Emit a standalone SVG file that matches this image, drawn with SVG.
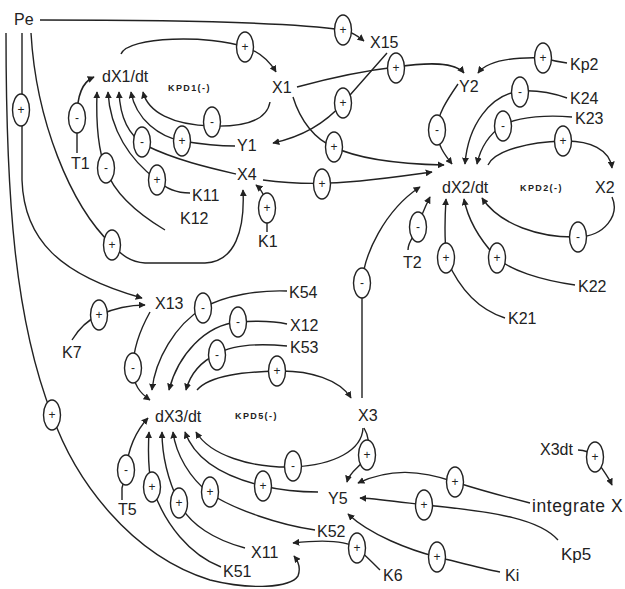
<svg xmlns="http://www.w3.org/2000/svg" width="625" height="589" viewBox="0 0 625 589">
<style>
.lbl{font-family:"Liberation Sans",Arial,sans-serif;font-size:16px;fill:#222}
.kpd{font-family:"Liberation Sans",Arial,sans-serif;font-size:9px;font-weight:bold;letter-spacing:1.4px;fill:#222}
.c path{fill:none;stroke:#222;stroke-width:1.4}
.c path.a{marker-end:url(#ah)}
.s ellipse{fill:#fff;stroke:#222;stroke-width:1.4}
.s text{font-family:"Liberation Sans",Arial,sans-serif;font-size:12px;fill:#222;text-anchor:middle}
</style>
<defs>
<marker id="ah" viewBox="0 0 10 10" refX="9" refY="5" markerWidth="7" markerHeight="7" markerUnits="userSpaceOnUse" orient="auto"><path d="M0,0 L10,5 L0,10 z" fill="#222"/></marker>
</defs>
<rect width="625" height="589" fill="#fff"/>
<g id="connectors" class="c">
<path class="a" d="M40,20 C150,20 290,22 343,30 C352,32 358,36 364,41"/>
<path class="a" d="M121,54 C128,36 210,35 245,47 C260,52 270,62 276,72"/>
<path class="a" d="M270,102 C267,120 245,127 212,126 C172,125 148,112 143,92"/>
<path class="a" d="M235,146 C215,146 200,144 182,141 C160,137 136,120 131,92"/>
<path class="a" d="M236,174 C210,168 175,160 145,145 C128,135 120,115 119,92"/>
<path class="a" d="M190,193 C175,193 165,188 157,180 C130,160 110,130 108,92"/>
<path class="a" d="M165,230 C140,215 115,195 106,170 C98,150 96,120 97,92"/>
<path class="a" d="M77,153 L77,118 C77,95 82,82 94,77"/>
<path class="a" d="M6,33 C6,200 15,320 52,415 C75,480 130,555 210,580 C250,590 290,588 298,576 C301,568 298,561 294,556"/>
<path class="a" d="M22,33 L22,180 C24,240 60,275 142,298"/>
<path class="a" d="M31,33 C36,120 70,205 112,245 C122,255 130,262 145,263 L205,263 C235,262 245,230 243,190"/>
<path class="a" d="M267,232 L267,215 C267,198 262,190 256,185"/>
<path class="a" d="M263,180 C300,185 330,184 360,181 C390,178 410,175 432,172"/>
<path class="a" d="M293,97 C300,120 315,140 334,147 C360,160 400,164 444,165"/>
<path class="a" d="M297,87 C330,78 370,70 396,67 C430,62 455,62 464,73"/>
<path class="a" d="M387,53 L343,103 C330,118 310,135 273,143"/>
<path class="a" d="M567,63 C560,62 550,60 543,58 C515,57 488,60 478,73"/>
<path class="a" d="M458,84 C447,100 437,115 437,130 C437,145 445,155 452,164"/>
<path class="a" d="M567,98 C550,92 535,90 520,91 C490,95 468,125 465,164"/>
<path class="a" d="M572,117 C550,115 520,116 503,125 C488,135 480,150 477,164"/>
<path class="a" d="M488,165 C495,150 530,142 563,141 C590,140 610,150 612,168"/>
<path class="a" d="M612,197 C620,215 605,236 578,237 C540,238 500,225 482,198"/>
<path class="a" d="M575,285 C540,280 510,270 497,258 C480,240 468,220 464,199"/>
<path class="a" d="M505,318 C480,310 460,290 447,260 C444,240 445,215 446,199"/>
<path class="a" d="M408,250 C408,242 413,238 417,230 C420,218 425,207 430,197"/>
<path class="a" d="M362,398 L362,285 C363,255 385,210 420,187"/>
<path class="a" d="M72,340 C78,330 88,320 99,315 C115,308 130,305 145,305"/>
<path class="a" d="M150,312 C140,330 133,350 133,368 C133,385 140,393 150,400"/>
<path class="a" d="M287,291 C260,290 225,295 203,308 C175,325 155,360 152,390"/>
<path class="a" d="M287,324 C270,320 252,321 238,322 C205,325 178,355 169,390"/>
<path class="a" d="M287,346 C265,344 235,343 217,354 C200,362 190,375 186,390"/>
<path class="a" d="M197,390 C210,375 245,372 277,371 C310,370 340,380 351,398"/>
<path class="a" d="M363,428 C362,450 335,465 293,467 C250,468 210,455 196,432"/>
<path class="a" d="M318,492 C300,492 280,490 263,486 C225,477 195,460 185,432"/>
<path class="a" d="M315,530 C280,525 235,510 209,493 C190,478 176,455 173,432"/>
<path class="a" d="M245,548 C215,540 190,525 179,503 C168,480 162,455 162,432"/>
<path class="a" d="M221,567 C190,555 165,525 152,487 C148,470 148,450 149,432"/>
<path class="a" d="M122,500 L122,488 C124,480 126,476 126,470 C128,450 135,432 148,418"/>
<path class="a" d="M364,428 C370,438 369,448 367,455 C364,465 350,470 347,482"/>
<path class="a" d="M530,503 C510,498 480,490 455,482 C420,470 390,468 358,483"/>
<path class="a" d="M558,540 C540,520 500,512 424,505 C400,502 380,499 360,498"/>
<path class="a" d="M500,572 C480,568 458,562 437,557 C410,550 370,535 348,514"/>
<path class="a" d="M380,570 C372,562 365,555 357,548 C345,540 320,540 293,543"/>
<path class="a" d="M578,450 C585,450 590,452 595,457 C600,467 607,474 612,485"/>
</g>
<g id="signs" class="s">
<g transform="translate(343,30)"><ellipse rx="8.5" ry="15"/><text y="4">+</text></g>
<g transform="translate(245,47)"><ellipse rx="8.5" ry="15"/><text y="4">+</text></g>
<g transform="translate(212,122)"><ellipse rx="8.5" ry="15"/><text y="4">-</text></g>
<g transform="translate(182,141)"><ellipse rx="8.5" ry="15"/><text y="4">+</text></g>
<g transform="translate(142,142)"><ellipse rx="8.5" ry="15"/><text y="4">-</text></g>
<g transform="translate(157,180)"><ellipse rx="8.5" ry="15"/><text y="4">+</text></g>
<g transform="translate(106,168)"><ellipse rx="8.5" ry="15"/><text y="4">-</text></g>
<g transform="translate(77,118)"><ellipse rx="8.5" ry="15"/><text y="4">-</text></g>
<g transform="translate(21,110)"><ellipse rx="8.5" ry="16"/><text y="4">+</text></g>
<g transform="translate(112,245)"><ellipse rx="8.5" ry="15"/><text y="4">+</text></g>
<g transform="translate(267,208)"><ellipse rx="8.5" ry="15"/><text y="4">+</text></g>
<g transform="translate(322,184)"><ellipse rx="8.5" ry="15"/><text y="4">+</text></g>
<g transform="translate(334,147)"><ellipse rx="8.5" ry="15"/><text y="4">+</text></g>
<g transform="translate(396,68)"><ellipse rx="8.5" ry="15"/><text y="4">+</text></g>
<g transform="translate(343,103)"><ellipse rx="8.5" ry="15"/><text y="4">+</text></g>
<g transform="translate(543,58)"><ellipse rx="8.5" ry="15"/><text y="4">+</text></g>
<g transform="translate(437,130)"><ellipse rx="8.5" ry="15"/><text y="4">-</text></g>
<g transform="translate(520,92)"><ellipse rx="8.5" ry="15"/><text y="4">-</text></g>
<g transform="translate(503,126)"><ellipse rx="8.5" ry="15"/><text y="4">-</text></g>
<g transform="translate(563,141)"><ellipse rx="8.5" ry="15"/><text y="4">+</text></g>
<g transform="translate(578,237)"><ellipse rx="8.5" ry="15"/><text y="4">-</text></g>
<g transform="translate(497,258)"><ellipse rx="8.5" ry="15"/><text y="4">+</text></g>
<g transform="translate(446,258)"><ellipse rx="8.5" ry="15"/><text y="4">+</text></g>
<g transform="translate(418,227)"><ellipse rx="8.5" ry="15"/><text y="4">-</text></g>
<g transform="translate(362,283)"><ellipse rx="8.5" ry="15"/><text y="4">-</text></g>
<g transform="translate(99,315)"><ellipse rx="8.5" ry="15"/><text y="4">+</text></g>
<g transform="translate(133,368)"><ellipse rx="8.5" ry="15"/><text y="4">-</text></g>
<g transform="translate(203,308)"><ellipse rx="8.5" ry="15"/><text y="4">-</text></g>
<g transform="translate(238,322)"><ellipse rx="8.5" ry="15"/><text y="4">-</text></g>
<g transform="translate(217,355)"><ellipse rx="8.5" ry="15"/><text y="4">-</text></g>
<g transform="translate(277,371)"><ellipse rx="8.5" ry="15"/><text y="4">+</text></g>
<g transform="translate(293,466)"><ellipse rx="8.5" ry="15"/><text y="4">-</text></g>
<g transform="translate(263,486)"><ellipse rx="8.5" ry="15"/><text y="4">+</text></g>
<g transform="translate(210,492)"><ellipse rx="8.5" ry="15"/><text y="4">+</text></g>
<g transform="translate(179,503)"><ellipse rx="8.5" ry="15"/><text y="4">+</text></g>
<g transform="translate(152,487)"><ellipse rx="8.5" ry="15"/><text y="4">+</text></g>
<g transform="translate(126,470)"><ellipse rx="8.5" ry="15"/><text y="4">-</text></g>
<g transform="translate(52,415)"><ellipse rx="8.5" ry="15"/><text y="4">+</text></g>
<g transform="translate(367,455)"><ellipse rx="8.5" ry="15"/><text y="4">+</text></g>
<g transform="translate(455,482)"><ellipse rx="8.5" ry="15"/><text y="4">+</text></g>
<g transform="translate(424,505)"><ellipse rx="8.5" ry="15"/><text y="4">+</text></g>
<g transform="translate(437,557)"><ellipse rx="8.5" ry="15"/><text y="4">+</text></g>
<g transform="translate(357,548)"><ellipse rx="8.5" ry="15"/><text y="4">+</text></g>
<g transform="translate(595,457)"><ellipse rx="8.5" ry="15"/><text y="4">+</text></g>
</g>
<g id="n-Pe"><text class="lbl" x="14" y="25">Pe</text></g>
<g id="n-dX1dt"><text class="lbl" x="102" y="82">dX1/dt</text></g>
<g id="n-KPD1"><text class="kpd" x="168" y="91">KPD1(-)</text></g>
<g id="n-X1"><text class="lbl" x="272" y="93">X1</text></g>
<g id="n-Y1"><text class="lbl" x="237" y="151">Y1</text></g>
<g id="n-X4"><text class="lbl" x="237" y="180">X4</text></g>
<g id="n-K11"><text class="lbl" x="192" y="201">K11</text></g>
<g id="n-K12"><text class="lbl" x="180" y="224">K12</text></g>
<g id="n-K1"><text class="lbl" x="258" y="247">K1</text></g>
<g id="n-T1"><text class="lbl" x="71" y="169">T1</text></g>
<g id="n-X15"><text class="lbl" x="370" y="48">X15</text></g>
<g id="n-Y2"><text class="lbl" x="459" y="92">Y2</text></g>
<g id="n-Kp2"><text class="lbl" x="570" y="70">Kp2</text></g>
<g id="n-K24"><text class="lbl" x="570" y="104">K24</text></g>
<g id="n-K23"><text class="lbl" x="575" y="124">K23</text></g>
<g id="n-dX2dt"><text class="lbl" x="442" y="193">dX2/dt</text></g>
<g id="n-KPD2"><text class="kpd" x="520" y="191">KPD2(-)</text></g>
<g id="n-X2"><text class="lbl" x="595" y="193">X2</text></g>
<g id="n-T2"><text class="lbl" x="403" y="268">T2</text></g>
<g id="n-K22"><text class="lbl" x="578" y="292">K22</text></g>
<g id="n-K21"><text class="lbl" x="508" y="324">K21</text></g>
<g id="n-X13"><text class="lbl" x="155" y="309">X13</text></g>
<g id="n-K54"><text class="lbl" x="289" y="298">K54</text></g>
<g id="n-X12"><text class="lbl" x="290" y="331">X12</text></g>
<g id="n-K53"><text class="lbl" x="290" y="353">K53</text></g>
<g id="n-K7"><text class="lbl" x="62" y="358">K7</text></g>
<g id="n-dX3dt"><text class="lbl" x="155" y="422">dX3/dt</text></g>
<g id="n-KPD5"><text class="kpd" x="235" y="419">KPD5(-)</text></g>
<g id="n-X3"><text class="lbl" x="358" y="421">X3</text></g>
<g id="n-Y5"><text class="lbl" x="328" y="504">Y5</text></g>
<g id="n-X3dt"><text class="lbl" x="540" y="455">X3dt</text></g>
<g id="n-integrate"><text class="lbl" x="532" y="512" style="font-size:17.5px;letter-spacing:0.6px">integrate X</text></g>
<g id="n-Kp5"><text class="lbl" x="561" y="560" style="font-size:17px">Kp5</text></g>
<g id="n-Ki"><text class="lbl" x="505" y="581">Ki</text></g>
<g id="n-K6"><text class="lbl" x="383" y="581">K6</text></g>
<g id="n-K52"><text class="lbl" x="317" y="537">K52</text></g>
<g id="n-X11"><text class="lbl" x="251" y="558">X11</text></g>
<g id="n-K51"><text class="lbl" x="223" y="577">K51</text></g>
<g id="n-T5"><text class="lbl" x="118" y="515">T5</text></g>
</svg>
